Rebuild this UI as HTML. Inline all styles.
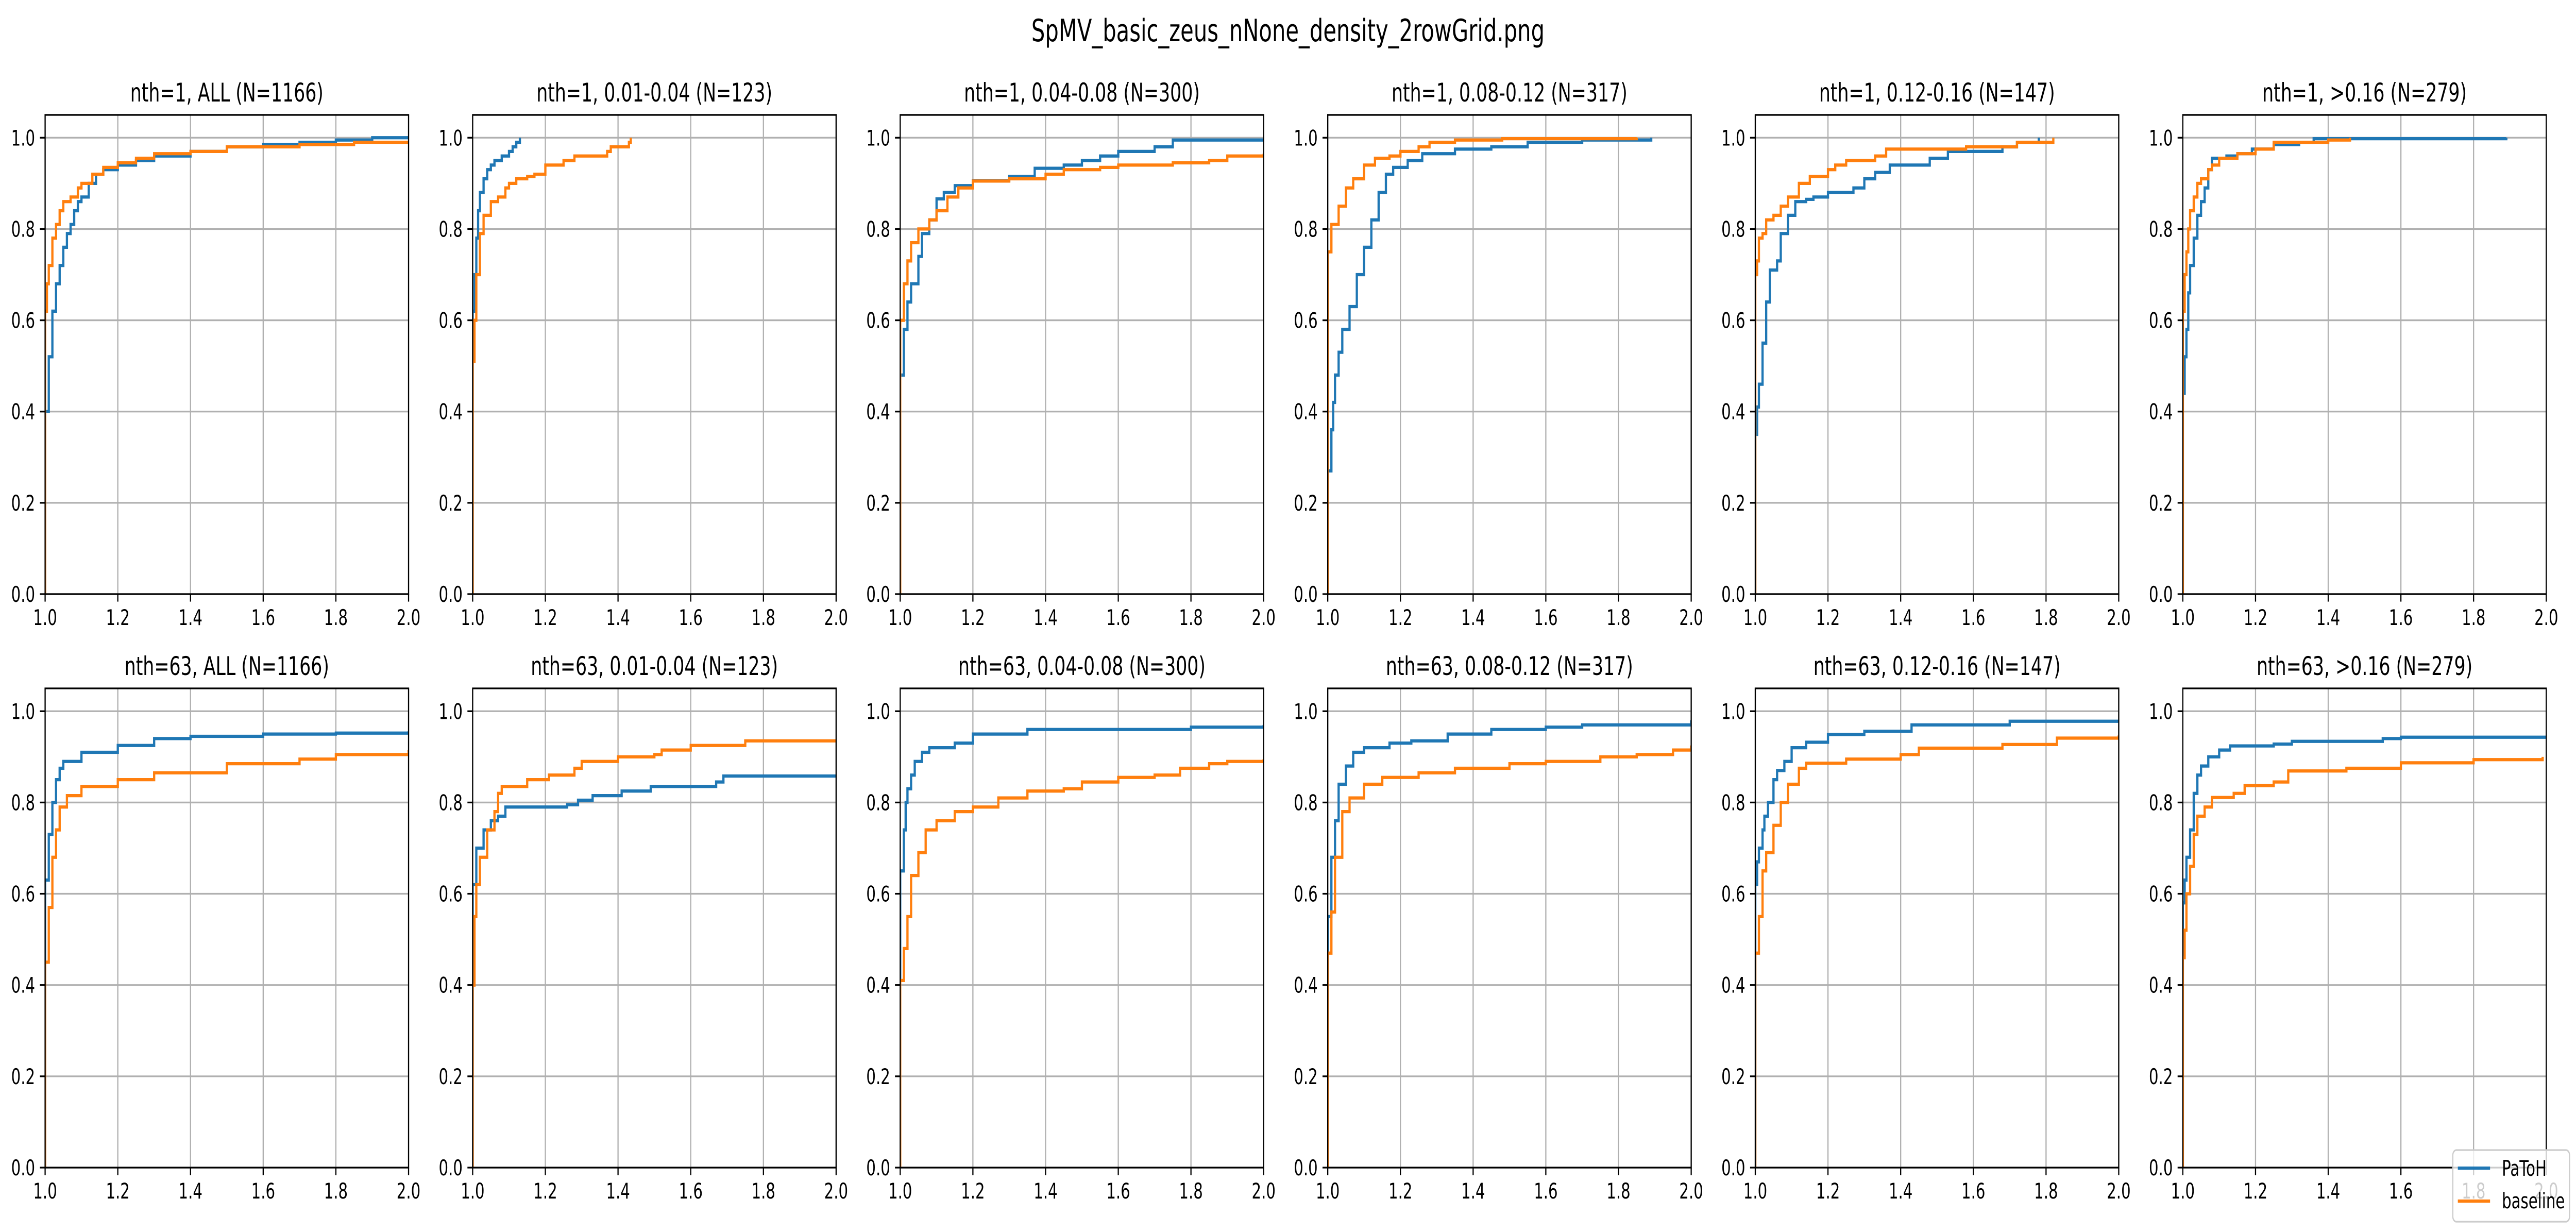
<!DOCTYPE html>
<html><head><meta charset="utf-8"><style>
html,body{margin:0;padding:0;background:#fff;overflow:hidden;width:100vw;height:100vh;}
svg{display:block;width:100vw;height:100vh;font-family:"DejaVu Sans","Liberation Sans",sans-serif;}
</style></head><body>
<svg id="fig" xmlns="http://www.w3.org/2000/svg" viewBox="0 0 7194 2391" preserveAspectRatio="none">
<rect width="7194" height="2391" fill="#fff"/>
<text x="3597" y="80" font-size="60" text-anchor="middle">SpMV_basic_zeus_nNone_density_2rowGrid.png</text>
<g id="panels"></g>
<g>
<rect x="6850" y="2232" width="326" height="139" rx="10" fill="#fff" fill-opacity="0.8" stroke="#cccccc" stroke-width="3.3"/>
<line x1="6864" y1="2267" x2="6954" y2="2267" stroke="#1f77b4" stroke-width="6.25"/>
<text x="6987" y="2282" font-size="42">PaToH</text>
<line x1="6864" y1="2331" x2="6954" y2="2331" stroke="#ff7f0e" stroke-width="6.25"/>
<text x="6987" y="2345" font-size="42">baseline</text>
</g>
</svg>
<script>
const titles = ["nth=1, ALL (N=1166)","nth=1, 0.01-0.04 (N=123)","nth=1, 0.04-0.08 (N=300)","nth=1, 0.08-0.12 (N=317)","nth=1, 0.12-0.16 (N=147)","nth=1, >0.16 (N=279)",
"nth=63, ALL (N=1166)","nth=63, 0.01-0.04 (N=123)","nth=63, 0.04-0.08 (N=300)","nth=63, 0.08-0.12 (N=317)","nth=63, 0.12-0.16 (N=147)","nth=63, >0.16 (N=279)"];
const xTicks = [1.0,1.2,1.4,1.6,1.8,2.0];
const xTickLabels = ["1.0","1.2","1.4","1.6","1.8","2.0"];
const yTicks = [0,0.2,0.4,0.6,0.8,1.0];
const yTickLabels = ["0.0","0.2","0.4","0.6","0.8","1.0"];
const xDomain = [1.0,2.0];
const yDomain = [0,1.05];

const patohX = [
[1.0,1.01,1.02,1.03,1.04,1.05,1.06,1.07,1.08,1.09,1.10,1.12,1.14,1.16,1.2,1.25,1.3,1.4,1.5,1.6,1.7,1.8,1.9,2.0],
[1.0,1.005,1.01,1.015,1.02,1.03,1.04,1.05,1.06,1.08,1.1,1.11,1.12,1.13],
[1.0,1.01,1.02,1.03,1.05,1.06,1.08,1.1,1.12,1.15,1.2,1.3,1.37,1.45,1.5,1.55,1.6,1.7,1.75,2.0],
[1.0,1.01,1.015,1.02,1.03,1.04,1.06,1.08,1.1,1.12,1.14,1.16,1.18,1.22,1.26,1.35,1.45,1.55,1.7,1.89],
[1.0,1.005,1.01,1.02,1.03,1.04,1.06,1.07,1.09,1.11,1.14,1.16,1.2,1.27,1.3,1.33,1.37,1.48,1.53,1.68,1.72,1.78],
[1.0,1.005,1.01,1.015,1.02,1.03,1.04,1.05,1.06,1.07,1.08,1.12,1.15,1.19,1.25,1.32,1.36,1.89],
[1.0,1.01,1.02,1.03,1.04,1.05,1.1,1.2,1.3,1.4,1.6,1.8,2.0],
[1.0,1.01,1.03,1.05,1.07,1.09,1.26,1.29,1.33,1.41,1.49,1.67,1.69,2.0],
[1.0,1.01,1.015,1.02,1.03,1.04,1.06,1.08,1.15,1.2,1.35,1.8,2.0],
[1.0,1.01,1.02,1.03,1.05,1.07,1.1,1.17,1.23,1.33,1.45,1.6,1.7,2.0],
[1.0,1.005,1.01,1.02,1.025,1.035,1.05,1.06,1.08,1.1,1.14,1.2,1.3,1.43,1.7,2.0],
[1.0,1.005,1.01,1.02,1.03,1.04,1.05,1.07,1.1,1.13,1.25,1.3,1.55,1.6,2.0]
];
const patohY = [
[0.40,0.52,0.62,0.68,0.72,0.76,0.79,0.81,0.84,0.86,0.87,0.90,0.92,0.93,0.94,0.95,0.96,0.97,0.98,0.985,0.99,0.995,1.0,1.0],
[0.62,0.70,0.78,0.84,0.88,0.91,0.93,0.94,0.95,0.96,0.97,0.98,0.99,1.0],
[0.48,0.58,0.64,0.68,0.74,0.79,0.82,0.866,0.88,0.895,0.906,0.915,0.933,0.94,0.95,0.96,0.97,0.98,0.995,0.998],
[0.27,0.36,0.42,0.48,0.53,0.58,0.63,0.70,0.76,0.82,0.88,0.92,0.935,0.95,0.965,0.975,0.98,0.99,0.995,1.0],
[0.35,0.41,0.46,0.55,0.64,0.71,0.73,0.79,0.83,0.86,0.865,0.87,0.88,0.89,0.91,0.924,0.94,0.955,0.97,0.98,0.99,1.0],
[0.44,0.52,0.58,0.66,0.72,0.78,0.83,0.86,0.89,0.93,0.955,0.96,0.965,0.975,0.985,0.99,0.998,1.0],
[0.63,0.73,0.80,0.85,0.875,0.89,0.91,0.925,0.94,0.945,0.95,0.952,0.956],
[0.62,0.70,0.74,0.76,0.77,0.79,0.795,0.805,0.815,0.825,0.835,0.845,0.858,0.858],
[0.65,0.74,0.80,0.83,0.86,0.89,0.91,0.92,0.93,0.95,0.96,0.965,0.97],
[0.55,0.68,0.76,0.84,0.88,0.91,0.92,0.93,0.935,0.95,0.96,0.965,0.97,0.98],
[0.62,0.67,0.70,0.74,0.77,0.80,0.85,0.87,0.89,0.92,0.932,0.949,0.956,0.97,0.978,0.978],
[0.58,0.63,0.68,0.74,0.82,0.86,0.88,0.90,0.915,0.924,0.928,0.934,0.94,0.943,0.943]
];
const baseX = [
[1.0,1.005,1.01,1.02,1.03,1.04,1.05,1.07,1.09,1.1,1.13,1.16,1.2,1.25,1.3,1.4,1.5,1.7,1.85,2.0],
[1.0,1.005,1.01,1.02,1.03,1.05,1.07,1.09,1.1,1.12,1.15,1.17,1.2,1.25,1.28,1.37,1.38,1.43,1.435],
[1.0,1.01,1.02,1.03,1.05,1.08,1.1,1.13,1.16,1.2,1.3,1.4,1.45,1.55,1.6,1.75,1.85,1.9,2.0],
[1.0,1.01,1.03,1.05,1.07,1.1,1.13,1.17,1.2,1.25,1.28,1.35,1.48,1.85],
[1.0,1.005,1.01,1.02,1.03,1.05,1.07,1.09,1.12,1.15,1.2,1.22,1.25,1.33,1.36,1.58,1.72,1.82],
[1.0,1.005,1.01,1.015,1.02,1.03,1.04,1.05,1.07,1.08,1.1,1.15,1.2,1.25,1.4,1.46],
[1.0,1.01,1.02,1.03,1.04,1.06,1.1,1.2,1.3,1.5,1.7,1.8,2.0],
[1.0,1.005,1.01,1.02,1.04,1.06,1.07,1.08,1.15,1.21,1.28,1.3,1.4,1.5,1.52,1.6,1.75,2.0],
[1.0,1.01,1.02,1.03,1.05,1.07,1.1,1.15,1.2,1.27,1.35,1.45,1.5,1.6,1.7,1.77,1.85,1.9,2.0],
[1.0,1.01,1.02,1.04,1.06,1.1,1.15,1.25,1.35,1.5,1.6,1.75,1.85,1.95,2.0],
[1.0,1.01,1.02,1.03,1.05,1.07,1.09,1.12,1.14,1.25,1.4,1.45,1.68,1.83,2.0],
[1.0,1.005,1.01,1.02,1.03,1.04,1.06,1.08,1.14,1.17,1.25,1.29,1.45,1.6,1.8,1.99]
];
const baseY = [
[0.62,0.68,0.72,0.78,0.81,0.84,0.86,0.87,0.89,0.90,0.92,0.935,0.945,0.955,0.965,0.97,0.98,0.985,0.99,0.99],
[0.51,0.60,0.70,0.79,0.83,0.86,0.87,0.89,0.90,0.91,0.915,0.92,0.94,0.95,0.96,0.97,0.98,0.99,1.0],
[0.60,0.68,0.73,0.77,0.80,0.82,0.84,0.87,0.89,0.905,0.91,0.92,0.93,0.935,0.94,0.945,0.95,0.96,0.965],
[0.75,0.81,0.85,0.89,0.91,0.94,0.955,0.96,0.97,0.98,0.99,0.995,0.998,1.0],
[0.70,0.73,0.78,0.79,0.82,0.83,0.85,0.87,0.90,0.915,0.93,0.94,0.95,0.96,0.975,0.98,0.99,1.0],
[0.62,0.70,0.75,0.80,0.84,0.87,0.90,0.91,0.93,0.94,0.955,0.965,0.975,0.99,0.995,1.0],
[0.45,0.57,0.68,0.74,0.79,0.815,0.835,0.85,0.865,0.885,0.895,0.905,0.915],
[0.40,0.55,0.62,0.68,0.74,0.78,0.82,0.835,0.85,0.86,0.875,0.89,0.90,0.905,0.915,0.925,0.935,0.935],
[0.41,0.48,0.55,0.64,0.69,0.74,0.76,0.78,0.79,0.81,0.825,0.83,0.845,0.855,0.86,0.875,0.885,0.89,0.895],
[0.47,0.56,0.68,0.78,0.81,0.84,0.855,0.865,0.875,0.885,0.89,0.90,0.905,0.915,0.925],
[0.47,0.55,0.65,0.69,0.75,0.80,0.84,0.875,0.886,0.895,0.905,0.919,0.927,0.941,0.947],
[0.46,0.52,0.60,0.66,0.73,0.77,0.79,0.811,0.82,0.837,0.845,0.869,0.875,0.887,0.894,0.90]
];

const NS = "http://www.w3.org/2000/svg";
const root = document.getElementById('panels');
const PW = 1015, PH = 930;
function mk(tag, attrs, parent){ const e=document.createElementNS(NS,tag); for(const k in attrs) e.setAttribute(k,attrs[k]); parent.appendChild(e); return e; }

for (let p=0;p<12;p++){
  const row = Math.floor(p/6), col = p%6;
  const L = 126 + col*1194, T = row===0 ? 223 : 1336;
  const sx = v => L + (v - xDomain[0])/(xDomain[1]-xDomain[0])*PW;
  const sy = v => T + PH - (v - yDomain[0])/(yDomain[1]-yDomain[0])*PH;
  const g = mk('g',{},root);
  
  
  const cp = mk('clipPath',{id:'cp'+p},g);
  mk('rect',{x:L,y:T,width:PW,height:PH},cp);
  xTicks.forEach((v,i)=>{
    const l = mk('line',{x1:sx(v),x2:sx(v),y1:T,y2:T+PH,stroke:'#b0b0b0','stroke-width':3.3},g);
    
    
  });
  yTicks.forEach((v,i)=>{
    const l = mk('line',{x1:L,x2:L+PW,y1:sy(v),y2:sy(v),stroke:'#b0b0b0','stroke-width':3.3},g);
    
    
  });
  const series = [[patohX[p],patohY[p],'#1f77b4','patoh-line'],[baseX[p],baseY[p],'#ff7f0e','baseline-line']];
  series.forEach(s=>{
    const xs=s[0], ys=s[1];
    let d = 'M'+sx(xs[0]).toFixed(1)+','+sy(0).toFixed(1)+' V'+sy(ys[0]).toFixed(1);
    for(let i=1;i<xs.length;i++){ d += ' H'+sx(xs[i]).toFixed(1)+' V'+sy(ys[i]).toFixed(1); }
    const path = mk('path',{d:d,fill:'none',stroke:s[2],'stroke-width':6.25,'clip-path':'url(#cp'+p+')'},g);
    
    
  });
  const fr = mk('rect',{x:L,y:T,width:PW,height:PH,fill:'none',stroke:'#000','stroke-width':3.3},g);
  
  
  xTicks.forEach((v,i)=>{
    mk('line',{x1:sx(v),x2:sx(v),y1:T+PH,y2:T+PH+14.6,stroke:'#000','stroke-width':3.3},g);
    const t = mk('text',{x:sx(v),y:T+PH+60,'font-size':42,'text-anchor':'middle'},g);
    t.textContent = xTickLabels[i];
    
    
  });
  yTicks.forEach((v,i)=>{
    mk('line',{x1:L-14.6,x2:L,y1:sy(v),y2:sy(v),stroke:'#000','stroke-width':3.3},g);
    const t = mk('text',{x:L-28,y:sy(v)+15,'font-size':42,'text-anchor':'end'},g);
    t.textContent = yTickLabels[i];
    
    
  });
  const tt = mk('text',{x:L+PW/2,y:T-26,'font-size':50,'text-anchor':'middle'},g);
  tt.textContent = titles[p];
  
  
}
</script>
</body></html>
